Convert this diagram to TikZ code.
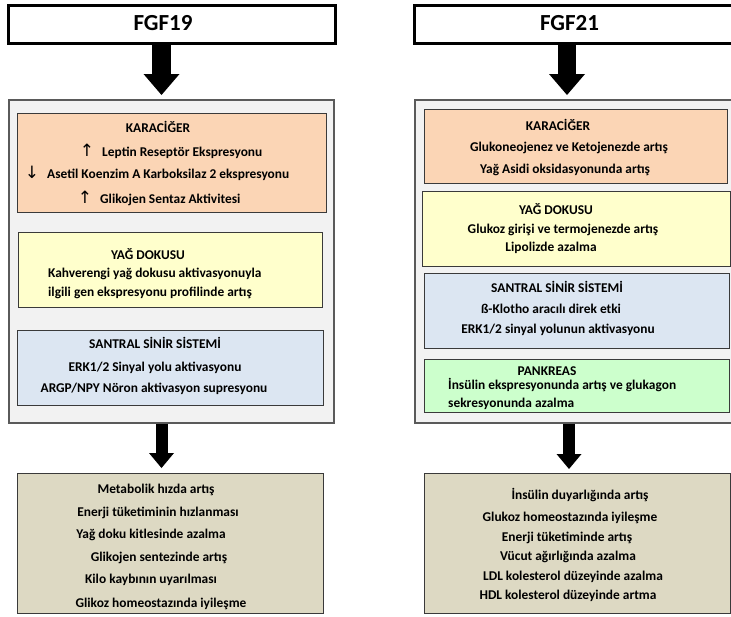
\documentclass[tikz,border=0pt]{standalone}
\usepackage{fontspec}
\setmainfont{Carlito}
\newfontfamily\arrowfont{DejaVu Sans}
\usetikzlibrary{arrows.meta}

\definecolor{peach}{HTML}{FBD5B5}
\definecolor{paleyellow}{HTML}{FFFFCC}
\definecolor{paleblue}{HTML}{DCE6F2}
\definecolor{palegreen}{HTML}{CCFFCC}
\definecolor{tanbox}{HTML}{DDD9C3}
\definecolor{panelgray}{HTML}{F2F2F2}
\definecolor{edgedark}{HTML}{3A3A3A}
\definecolor{edgepanel}{HTML}{5A5A5A}

\tikzset{
  titlebox/.style={draw=black, line width=3pt, fill=white, inner sep=0pt},
  panelbox/.style={draw=edgepanel, line width=1.5pt, fill=panelgray, inner sep=0pt},
  organbox/.style={draw=edgedark, line width=1.3pt, inner sep=0pt},
  titletxt/.style={font=\bfseries\fontsize{23}{26}\selectfont, inner sep=0pt},
  txt/.style={font=\bfseries\fontsize{13.4}{16}\selectfont, inner sep=0pt,
              text height=10pt, text depth=2pt},
  updown/.style={font=\arrowfont\fontsize{17}{19}\selectfont, inner sep=0pt,
              text height=11pt, text depth=2pt},
  bigarrow/.style={line width=18.5pt,
    -{Triangle[width=36pt,length=21pt,line width=0pt]}},
  smallarrow/.style={line width=12pt,
    -{Triangle[width=25pt,length=15pt,line width=0pt]}},
}

% box from its top-left to its bottom-right corner
\newcommand\cornerbox[6]{%
  \node[#2, anchor=north west, minimum width={#5-#3}, minimum height={#6-#4}]
    (#1) at (#3,#4) {};}

\begin{document}
\begin{tikzpicture}[x=1pt,y=-1pt]
\useasboundingbox (0,0) rectangle (731,616);
\clip (0,0) rectangle (731,616);

% ---------------- FGF19 column ----------------
\cornerbox{t1}{titlebox}{7}{4}{334}{42}
\node[titletxt] (t1txt) at (163,23) {FGF19};

\cornerbox{p1}{panelbox}{8}{99}{333}{422}

\cornerbox{liverA}{organbox, fill=peach}{17}{113}{326}{212}
\node[txt] (liverAh) at (158,128) {KARACİĞER};
\node[updown] (liverAa1) at (87,152) {↑};
\node[txt, anchor=west] (liverA1) at (102,152) {Leptin Reseptör Ekspresyonu};
\node[updown] (liverAa2) at (32,174) {↓};
\node[txt, anchor=west] (liverA2) at (47,174) {Asetil Koenzim A Karboksilaz 2 ekspresyonu};
\node[updown] (liverAa3) at (85,199) {↑};
\node[txt, anchor=west] (liverA3) at (100,199) {Glikojen Sentaz Aktivitesi};

\cornerbox{fatA}{organbox, fill=paleyellow}{18}{232}{322}{307}
\node[txt] (fatAh) at (148,255) {YAĞ DOKUSU};
\node[txt, anchor=west] (fatA1) at (48,273) {Kahverengi yağ dokusu aktivasyonuyla};
\node[txt, anchor=west] (fatA2) at (48,292) {ilgili gen ekspresyonu profilinde artış};

\cornerbox{cnsA}{organbox, fill=paleblue}{17}{330}{323}{405}
\node[txt] (cnsAh) at (155,344) {SANTRAL SİNİR SİSTEMİ};
\node[txt] (cnsA1) at (155,367) {ERK1/2 Sinyal yolu aktivasyonu};
\node[txt] (cnsA2) at (154,388) {ARGP/NPY Nöron aktivasyon supresyonu};

\cornerbox{outA}{organbox, fill=tanbox}{17}{473}{323}{613}
\node[txt] (outA1) at (156,489) {Metabolik hızda artış};
\node[txt] (outA2) at (158,512) {Enerji tüketiminin hızlanması};
\node[txt] (outA3) at (151,534) {Yağ doku kitlesinde azalma};
\node[txt] (outA4) at (159,557) {Glikojen sentezinde artış};
\node[txt] (outA5) at (151,579) {Kilo kaybının uyarılması};
\node[txt] (outA6) at (161,603) {Glikoz homeostazında iyileşme};

\coordinate (axA) at (161.5,0);
\draw[bigarrow, shorten >=4pt] (t1.south -| axA) -- (p1.north -| axA);
\draw[smallarrow, shorten >=5pt] (p1.south -| axA) -- (outA.north -| axA);

% ---------------- FGF21 column ----------------
\cornerbox{t2}{titlebox}{413}{4}{745}{42}
\node[titletxt] (t2txt) at (569.5,23) {FGF21};

\cornerbox{p2}{panelbox}{414}{99}{745}{422}

\cornerbox{liverB}{organbox, fill=peach}{424}{109}{727}{183}
\node[txt] (liverBh) at (558,126) {KARACİĞER};
\node[txt] (liverB1) at (569,147) {Glukoneojenez ve Ketojenezde artış};
\node[txt] (liverB2) at (565,169) {Yağ Asidi oksidasyonunda artış};

\cornerbox{fatB}{organbox, fill=paleyellow}{422}{191}{730}{266}
\node[txt] (fatBh) at (556,210) {YAĞ DOKUSU};
\node[txt] (fatB1) at (563,229) {Glukoz girişi ve termojenezde artış};
\node[txt] (fatB2) at (551,247) {Lipolizde azalma};

\cornerbox{cnsB}{organbox, fill=paleblue}{424}{273}{729}{348}
\node[txt] (cnsBh) at (557,288) {SANTRAL SİNİR SİSTEMİ};
\node[txt] (cnsB1) at (551,309) {ß-Klotho aracılı direk etki};
\node[txt] (cnsB2) at (558,329) {ERK1/2 sinyal yolunun aktivasyonu};

\cornerbox{panB}{organbox, fill=palegreen}{424}{359}{729}{412}
\node[txt] (panBh) at (547,371) {PANKREAS};
\node[txt, anchor=west] (panB1) at (448,385) {İnsülin ekspresyonunda artış ve glukagon};
\node[txt, anchor=west] (panB2) at (448,403) {sekresyonunda azalma};

\cornerbox{outB}{organbox, fill=tanbox}{424}{473}{730}{613}
\node[txt] (outB1) at (580,495) {İnsülin duyarlığında artış};
\node[txt] (outB2) at (570,517) {Glukoz homeostazında iyileşme};
\node[txt] (outB3) at (567,537) {Enerji tüketiminde artış};
\node[txt] (outB4) at (568,556) {Vücut ağırlığında azalma};
\node[txt] (outB5) at (573,576) {LDL kolesterol düzeyinde azalma};
\node[txt] (outB6) at (568,595) {HDL kolesterol düzeyinde artma};

\coordinate (axBtop) at (567,0);
\coordinate (axBbot) at (569,0);
\draw[bigarrow, shorten >=4pt] (t2.south -| axBtop) -- (p2.north -| axBtop);
\draw[smallarrow, shorten >=4pt] (p2.south -| axBbot) -- (outB.north -| axBbot);
\end{tikzpicture}
\end{document}
